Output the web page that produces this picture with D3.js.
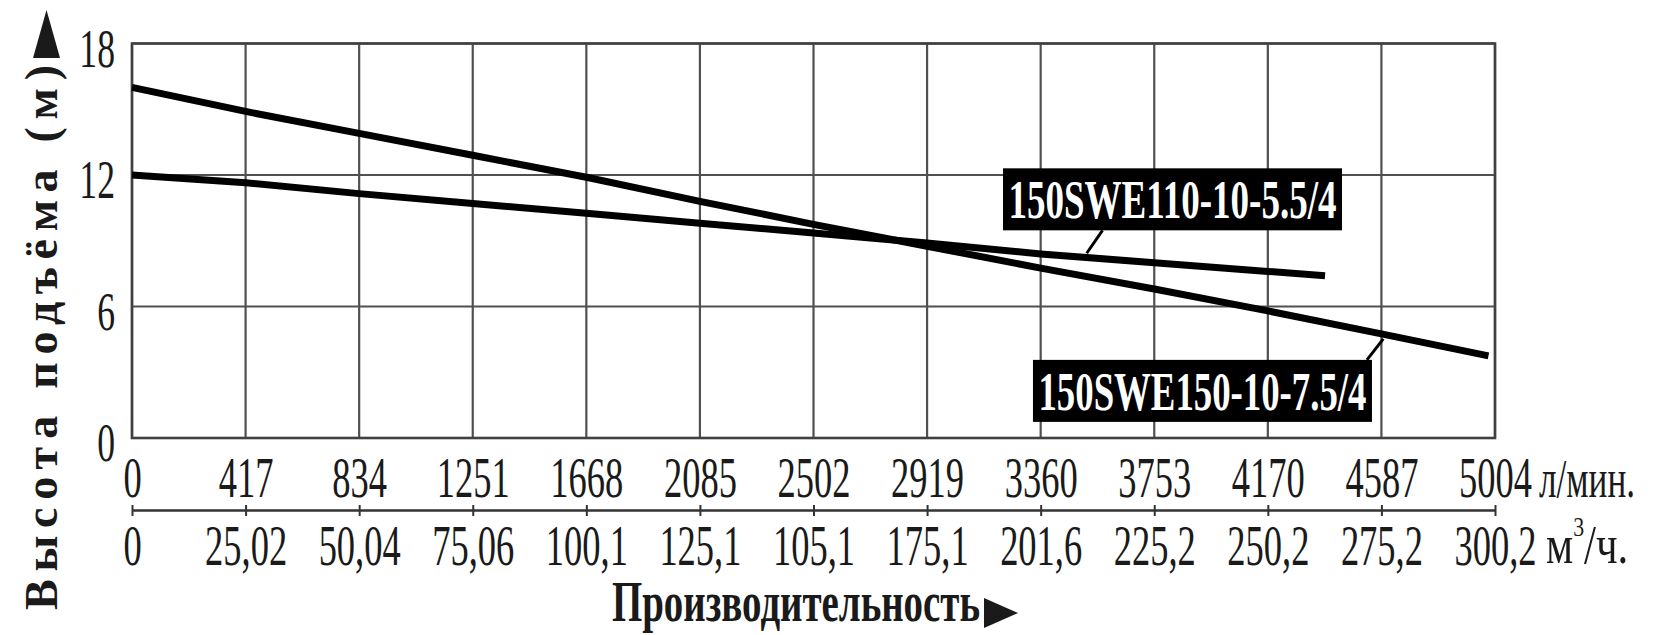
<!DOCTYPE html>
<html>
<head>
<meta charset="utf-8">
<script src="https://cdn.jsdelivr.net/npm/d3@7"></script>
<style>
  body { margin: 0; background: #fff; }
  svg { display: block; }
</style>
</head>
<body>
<svg id="chart"></svg>
<script>
// grid positions on the flow axis (l/min) and the printed labels
const flowTicks = [0, 417, 834, 1251, 1668, 2085, 2502, 2919, 3336, 3753, 4170, 4587, 5004];
const flowLabels = ['0', '417', '834', '1251', '1668', '2085', '2502', '2919', '3360', '3753', '4170', '4587', '5004'];
const cubicLabels = ['0', '25,02', '50,04', '75,06', '100,1', '125,1', '105,1', '175,1', '201,6', '225,2', '250,2', '275,2', '300,2'];
const headTicks = [0, 6, 12, 18];

// pump curves
const flow150 = [0, 417, 834, 1251, 1668, 2085, 2502, 2919, 3336, 3753, 4170, 4587, 4980];
const head150 = [16.0, 14.9, 13.9, 12.9, 11.9, 10.8, 9.75, 8.75, 7.75, 6.8, 5.8, 4.75, 3.75];
const flow110 = [0, 417, 834, 1251, 1668, 2085, 2502, 2919, 3336, 3753, 4170, 4380];
const head110 = [12.0, 11.65, 11.15, 10.7, 10.25, 9.8, 9.35, 8.9, 8.4, 8.0, 7.6, 7.4];

// label boxes: centre (flow, head) and the point on the curve the leader goes to
const labelNames = ['150SWE110-10-5.5/4', '150SWE150-10-7.5/4'];
const labelFlow = [3820, 3930];
const labelHead = [10.89, 2.15];
const leaderFlow = [3505, 4594];
const leaderHead = [8.43, 4.52];

const width = 1676;
const height = 635;
const plot = { left: 132, right: 1495, top: 43.5, bottom: 438 };
const serif = '"Liberation Serif", "Times New Roman", serif';
const squeeze = 0.64;

const svg = d3.select('#chart')
  .attr('width', width)
  .attr('height', height);

const x = d3.scaleLinear().domain([0, 5004]).range([plot.left, plot.right]);
const y = d3.scaleLinear().domain([0, 18]).range([plot.bottom, plot.top]);

// grid
svg.append('g')
  .selectAll('line')
  .data(flowTicks)
  .enter()
  .append('line')
  .attr('x1', d => x(d)).attr('x2', d => x(d))
  .attr('y1', plot.top).attr('y2', plot.bottom)
  .attr('stroke', '#505050').attr('stroke-width', 2.2);

svg.append('g')
  .selectAll('line')
  .data(headTicks)
  .enter()
  .append('line')
  .attr('x1', plot.left).attr('x2', plot.right)
  .attr('y1', d => y(d)).attr('y2', d => y(d))
  .attr('stroke', '#505050').attr('stroke-width', 2.2);

svg.append('rect')
  .attr('x', plot.left).attr('y', plot.top)
  .attr('width', plot.right - plot.left)
  .attr('height', plot.bottom - plot.top)
  .attr('fill', 'none')
  .attr('stroke', '#404040').attr('stroke-width', 2.6);

// curves
const line = d3.line()
  .x(d => x(d[0]))
  .y(d => y(d[1]));

[[flow150, head150], [flow110, head110]].forEach(([fs, hs]) => {
  svg.append('path')
    .datum(fs.map((f, i) => [f, hs[i]]))
    .attr('d', line)
    .attr('fill', 'none')
    .attr('stroke', '#000')
    .attr('stroke-width', 7);
});

// first row: l/min
const flowAxis = svg.append('g')
  .attr('transform', `translate(0, ${plot.bottom})`)
  .call(d3.axisBottom(x).tickValues(flowTicks).tickFormat((d, i) => flowLabels[i]).tickSize(0));
flowAxis.select('.domain').remove();
flowAxis.selectAll('text')
  .attr('y', 59).attr('dy', null)
  .attr('font-family', serif).attr('font-size', 57).attr('fill', '#1a1a1a')
  .attr('transform', `scale(${squeeze},1)`);

// second row: m3/h
const cubicAxis = svg.append('g')
  .attr('transform', 'translate(0, 510)')
  .call(d3.axisBottom(x).tickValues(flowTicks).tickFormat((d, i) => cubicLabels[i]).tickSizeOuter(0));
cubicAxis.select('.domain').attr('stroke', '#333').attr('stroke-width', 2.5);
cubicAxis.selectAll('.tick line').attr('y1', -5).attr('y2', 6).attr('stroke', '#333').attr('stroke-width', 2);
cubicAxis.selectAll('text')
  .attr('y', 55).attr('dy', null)
  .attr('font-family', serif).attr('font-size', 57).attr('fill', '#1a1a1a')
  .attr('transform', `scale(${squeeze},1)`);

// head axis
const headAxis = svg.append('g')
  .attr('transform', `translate(${plot.left}, 0)`)
  .call(d3.axisLeft(y).tickValues(headTicks).tickSize(0));
headAxis.select('.domain').remove();
headAxis.selectAll('text')
  .attr('x', 0).attr('dy', '0.42em')
  .attr('font-family', serif).attr('font-size', 54).attr('fill', '#1a1a1a')
  .attr('transform', `translate(-17,0) scale(0.66,1)`);

// units after the rows
svg.append('text')
  .attr('transform', `translate(1539, 497) scale(0.64,1)`)
  .attr('font-family', serif).attr('font-size', 55).attr('fill', '#1a1a1a')
  .text('л/мин.');

const cubicUnit = svg.append('text')
  .attr('transform', `translate(1546, 563) scale(0.78,1)`)
  .attr('font-family', serif).attr('font-size', 55).attr('fill', '#1a1a1a');
cubicUnit.append('tspan').text('м');
cubicUnit.append('tspan').attr('dy', -27).attr('font-size', 28).text('3');
cubicUnit.append('tspan').attr('dy', 27).text('/ч.');

// label boxes with leaders
labelNames.forEach((name, i) => {
  const cx = x(labelFlow[i]);
  const cy = y(labelHead[i]);
  const bw = 339, bh = 62;
  const top = cy - bh / 2, bottom = cy + bh / 2;
  const tx = x(leaderFlow[i]), ty = y(leaderHead[i]);
  const fromY = ty > cy ? bottom : top;
  const fromX = i === 0 ? cx - 70 : cx + bw / 2 - 5;
  svg.append('line')
    .attr('x1', fromX).attr('y1', fromY)
    .attr('x2', tx).attr('y2', ty)
    .attr('stroke', '#000').attr('stroke-width', 3);
  svg.append('rect')
    .attr('x', cx - bw / 2).attr('y', top)
    .attr('width', bw).attr('height', bh)
    .attr('fill', '#000');
  svg.append('text')
    .attr('x', cx).attr('y', cy + 19)
    .attr('text-anchor', 'middle')
    .attr('font-family', serif).attr('font-weight', 'bold').attr('font-size', 54)
    .attr('fill', '#fff')
    .attr('textLength', 328).attr('lengthAdjust', 'spacingAndGlyphs')
    .text(name);
});

// axis titles
svg.append('text')
  .attr('transform', 'translate(57, 610) rotate(-90)')
  .attr('font-family', serif).attr('font-weight', 'bold').attr('font-size', 46)
  .attr('fill', '#1a1a1a')
  .attr('textLength', 545).attr('lengthAdjust', 'spacing')
  .text('Высота подъёма (м)');
svg.append('path')
  .attr('d', 'M46.5,10 L60,58 L33,58 Z')
  .attr('fill', '#1a1a1a');

svg.append('text')
  .attr('x', 612).attr('y', 621)
  .attr('font-family', serif).attr('font-weight', 'bold').attr('font-size', 58)
  .attr('fill', '#1a1a1a')
  .attr('textLength', 368).attr('lengthAdjust', 'spacingAndGlyphs')
  .text('Производительность');
svg.append('path')
  .attr('d', 'M984,598 L1018,613 L984,628 Z')
  .attr('fill', '#1a1a1a');
</script>
</body>
</html>
